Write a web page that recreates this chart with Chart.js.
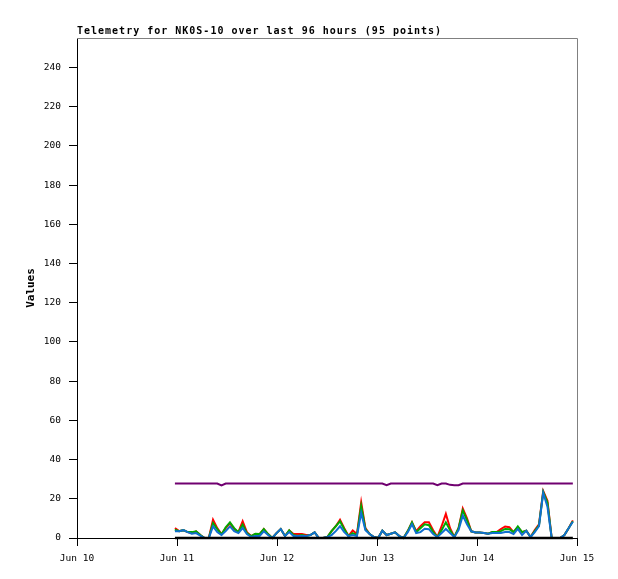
<!DOCTYPE html>
<html>
<head>
<meta charset="utf-8">
<title>Telemetry for NK0S-10</title>
<script src="https://cdn.jsdelivr.net/npm/chart.js@4/dist/chart.umd.min.js"></script>
<style>
    body { margin: 0; background: #fff; }
    #wrap { width: 618px; height: 579px; }
</style>
</head>
<body>
<div id="wrap"><canvas id="chart" width="618" height="579"></canvas></div>
<script>
// Axis ticks (x in hours since Jun 10 00:00)
const xTickHours = [0, 24, 48, 72, 96, 120];
const xTickLabels = ['Jun 10', 'Jun 11', 'Jun 12', 'Jun 13', 'Jun 14', 'Jun 15'];
const yTicks = [0, 20, 40, 60, 80, 100, 120, 140, 160, 180, 200, 220, 240];

// Sample times: first sample and spacing (hours)
const startHour = 23.5;
const stepHours = 1.016;

// Series values (95 points each)
const redValues = [
    5, 3.5, 4, 3, 2.5, 3.4, 1.5, 0, 0, 9.3,
    5, 2, 5, 7.5, 4.5, 3, 8.5, 3, 1, 2,
    2, 4.6, 2, 0, 2.5, 4.6, 1, 3.9, 2, 2,
    2, 1.5, 1.5, 2.9, 0, 0, 0.5, 3.5, 6, 9.3,
    5, 1, 3.9, 2, 18.2, 5, 2, 0.5, 0, 3.7,
    1.5, 2.2, 2.9, 1, 0, 3.5, 8, 3.5, 6, 8,
    8, 4, 0.5, 6, 12.3, 5, 0.5, 5, 15, 10,
    3.4, 2.8, 2.8, 2.5, 2.2, 3, 3, 4.5, 5.9, 5.5,
    3, 5.5, 3, 3.7, 0.5, 4, 7, 24, 19, 0,
    0, 0, 1.5, 5, 9
];
const greenValues = [
    4.2, 3.5, 4, 3, 3, 3.4, 1.5, 0, 0, 7.6,
    4.5, 1.8, 5.5, 8, 5, 3, 6.8, 2.5, 1, 2.2,
    2, 4.6, 2, 0, 2.5, 4.6, 1, 3.9, 1.5, 1,
    1.5, 1, 1.5, 2.9, 0, 0, 0.5, 3.5, 6, 8.5,
    4.5, 1, 2.5, 1.5, 16.2, 4.5, 2, 0.5, 0, 3.7,
    1.5, 2.2, 2.9, 1, 0, 3.5, 8, 3, 5, 7,
    6.5, 3, 0.5, 4, 8, 4, 0.5, 5, 14, 9,
    3.4, 2.8, 2.8, 2.5, 2.2, 3, 3, 3.5, 4.6, 4.5,
    3, 5.9, 3, 3.7, 0.5, 3.5, 6.5, 23.5, 18, 0,
    0, 0, 1.5, 5, 8.5
];
const blueValues = [
    3.4, 3.5, 4, 3, 2.2, 2.5, 1.2, 0, 0, 5.9,
    3, 1.5, 3.5, 5.9, 3.5, 2.5, 5.1, 2, 0.5, 1,
    1, 3.4, 1.5, 0, 2.5, 4.6, 1, 3, 1, 1,
    1, 1, 1.5, 2.9, 0, 0, 0.5, 1.5, 3.5, 6,
    3, 1, 1.5, 1, 12.8, 4, 2, 0.5, 0, 3.7,
    1.5, 2.2, 2.9, 1, 0, 3, 7, 2.5, 3, 4.7,
    4.5, 2, 0.5, 2.5, 4.6, 2.5, 0.5, 4, 11.5, 7,
    3.4, 2.8, 2.8, 2.5, 2.2, 2.5, 2.5, 2.5, 3, 3,
    2, 4.6, 1.5, 3.7, 0.5, 3, 6, 23, 16, 0,
    0, 0, 1.5, 5, 8.3
];
const purpleValues = [
    27.8, 27.8, 27.8, 27.8, 27.8, 27.8, 27.8, 27.8, 27.8, 27.8,
    27.8, 26.8, 27.8, 27.8, 27.8, 27.8, 27.8, 27.8, 27.8, 27.8,
    27.8, 27.8, 27.8, 27.8, 27.8, 27.8, 27.8, 27.8, 27.8, 27.8,
    27.8, 27.8, 27.8, 27.8, 27.8, 27.8, 27.8, 27.8, 27.8, 27.8,
    27.8, 27.8, 27.8, 27.8, 27.8, 27.8, 27.8, 27.8, 27.8, 27.8,
    26.9, 27.8, 27.8, 27.8, 27.8, 27.8, 27.8, 27.8, 27.8, 27.8,
    27.8, 27.8, 26.9, 27.8, 27.8, 27.1, 26.9, 26.9, 27.8, 27.8,
    27.8, 27.8, 27.8, 27.8, 27.8, 27.8, 27.8, 27.8, 27.8, 27.8,
    27.8, 27.8, 27.8, 27.8, 27.8, 27.8, 27.8, 27.8, 27.8, 27.8,
    27.8, 27.8, 27.8, 27.8, 27.8
];
const blackValues = [
    0, 0, 0, 0, 0, 0, 0, 0, 0, 0,
    0, 0, 0, 0, 0, 0, 0, 0, 0, 0,
    0, 0, 0, 0, 0, 0, 0, 0, 0, 0,
    0, 0, 0, 0, 0, 0, 0, 0, 0, 0,
    0, 0, 0, 0, 0, 0, 0, 0, 0, 0,
    0, 0, 0, 0, 0, 0, 0, 0, 0, 0,
    0, 0, 0, 0, 0, 0, 0, 0, 0, 0,
    0, 0, 0, 0, 0, 0, 0, 0, 0, 0,
    0, 0, 0, 0, 0, 0, 0, 0, 0, 0,
    0, 0, 0, 0, 0
];

const titleText = 'Telemetry for NK0S-10 over last 96 hours (95 points)';

function toPoints(values) {
    return values.map((v, i) => ({ x: startHour + i * stepHours, y: v }));
}

function lineSet(label, values, color, width) {
    return {
        label: label,
        data: toPoints(values),
        borderColor: color,
        backgroundColor: color,
        borderWidth: width,
        pointRadius: 0,
        tension: 0,
        fill: false,
        clip: 4
    };
}

const tickFont = { family: 'DejaVu Sans Mono', size: 9.5 };

// gray frame on top/right + title text
const framePlugin = {
    id: 'frame',
    beforeDatasetsDraw(chart) {
        const { ctx, chartArea: a } = chart;
        ctx.save();
        ctx.strokeStyle = '#808080';
        ctx.lineWidth = 1;
        ctx.beginPath();
        ctx.moveTo(a.left, a.top + 0.5);
        ctx.lineTo(a.right + 0.5, a.top + 0.5);
        ctx.lineTo(a.right + 0.5, a.bottom);
        ctx.stroke();
        ctx.restore();
    },
    afterDraw(chart) {
        const { ctx, chartArea: a } = chart;
        ctx.save();
        ctx.font = 'bold 10px "DejaVu Sans Mono"';
        ctx.letterSpacing = '1px';
        ctx.fillStyle = '#000';
        ctx.textBaseline = 'alphabetic';
        ctx.fillText(titleText, a.left, 34);
        ctx.restore();
    }
};

new Chart(document.getElementById('chart'), {
    type: 'line',
    data: {
        // index 0 is drawn on top
        datasets: [
            lineSet('black', blackValues, '#000000', 2.5),
            lineSet('blue', blueValues, '#1070d0', 2),
            lineSet('green', greenValues, '#00aa00', 2),
            lineSet('red', redValues, '#ff0000', 2),
            lineSet('purple', purpleValues, '#700070', 2)
        ]
    },
    options: {
        responsive: false,
        animation: false,
        layout: { padding: { top: 38, right: 41, left: 0, bottom: 0 } },
        plugins: {
            legend: { display: false },
            tooltip: { enabled: false }
        },
        scales: {
            x: {
                type: 'linear',
                min: 0,
                max: 120,
                afterBuildTicks: s => { s.ticks = xTickHours.map(v => ({ value: v })); },
                afterFit: s => { s.height = 41; },
                ticks: {
                    callback: v => xTickLabels[xTickHours.indexOf(v)],
                    font: tickFont,
                    color: '#000',
                    padding: 7,
                    maxRotation: 0,
                    autoSkip: false
                },
                grid: { drawOnChartArea: false, tickLength: 8, color: '#000' },
                border: { color: '#000', width: 1 }
            },
            y: {
                min: 0,
                max: 255,
                afterBuildTicks: s => { s.ticks = yTicks.map(v => ({ value: v })); },
                afterFit: s => { s.width = 77; },
                ticks: {
                    font: tickFont,
                    color: '#000',
                    padding: 8,
                    autoSkip: false
                },
                grid: { drawOnChartArea: false, tickLength: 8, color: '#000' },
                border: { color: '#000', width: 1 },
                title: {
                    display: true,
                    text: 'Values',
                    color: '#000',
                    font: { family: 'DejaVu Sans Mono', size: 11, weight: 'bold' },
                    padding: { top: 25, bottom: 0 }
                }
            }
        }
    },
    plugins: [framePlugin]
});
</script>
</body>
</html>
